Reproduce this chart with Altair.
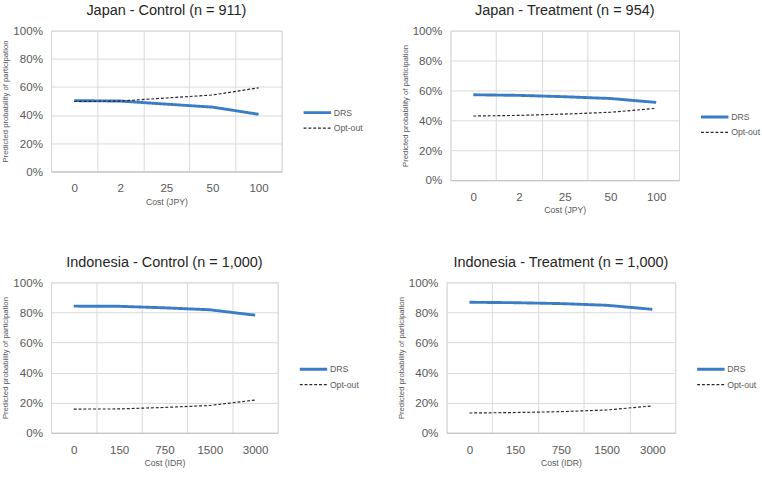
import altair as alt
import pandas as pd

# Cost levels shown on each x axis
jpy_costs = ["0", "2", "25", "50", "100"]
idr_costs = ["0", "150", "750", "1500", "3000"]

series_names = ["DRS", "Opt-out"]

# Predicted probability of participation (share of respondents)
jp_control_drs = [0.503, 0.500, 0.478, 0.457, 0.406]
jp_control_opt = [0.497, 0.500, 0.522, 0.543, 0.594]

jp_treat_drs = [0.571, 0.567, 0.558, 0.546, 0.520]
jp_treat_opt = [0.429, 0.433, 0.442, 0.454, 0.480]

id_control_drs = [0.842, 0.841, 0.831, 0.818, 0.782]
id_control_opt = [0.158, 0.159, 0.169, 0.182, 0.218]

id_treat_drs = [0.868, 0.865, 0.859, 0.848, 0.821]
id_treat_opt = [0.132, 0.135, 0.141, 0.152, 0.179]

BLUE = "#3a7dc6"
GRID = "#d9d9d9"
TEXT = "#595959"


def frame(costs, drs, opt):
    rows = []
    for c, v in zip(costs, drs):
        rows.append({"cost": c, "series": "DRS", "p": v})
    for c, v in zip(costs, opt):
        rows.append({"cost": c, "series": "Opt-out", "p": v})
    return pd.DataFrame(rows)


def panel(title, costs, drs, opt, currency, width, height):
    df = frame(costs, drs, opt)
    legend = alt.Legend(
        title=None,
        orient="none",
        legendX=width + 21,
        legendY=height / 2 + 4,
        symbolType="stroke",
        symbolSize=810,
        clipHeight=16,
        rowPadding=0,
        padding=0,
        labelFontSize=9,
        labelColor=TEXT,
        labelFont="Liberation Sans",
        labelOffset=1,
    )
    return (
        alt.Chart(df, title=alt.Title(title, fontSize=15, font="Liberation Sans",
                                      fontWeight="normal", color="#262626", offset=7))
        .mark_line()
        .encode(
            x=alt.X(
                "cost:N",
                sort=costs,
                scale=alt.Scale(paddingInner=0, paddingOuter=0),
                axis=alt.Axis(
                    title=f"Cost ({currency})",
                    titleFontSize=9,
                    titleFontWeight="normal",
                    titleColor=TEXT,
                    titlePadding=4,
                    labelAngle=0,
                    labelFontSize=12,
                    labelColor=TEXT,
                    labelPadding=12,
                    tickBand="extent",
                    ticks=False,
                    grid=True,
                    gridColor=GRID,
                    domainColor="#bfbfbf",
                ),
            ),
            y=alt.Y(
                "p:Q",
                scale=alt.Scale(domain=[0, 1]),
                axis=alt.Axis(
                    title="Predicted probability of participation",
                    titleFontSize=8,
                    titleFontWeight="normal",
                    titleColor=TEXT,
                    titlePadding=3,
                    format=".0%",
                    values=[0, 0.2, 0.4, 0.6, 0.8, 1.0],
                    labelFontSize=12,
                    labelColor=TEXT,
                    labelPadding=9,
                    ticks=False,
                    domain=False,
                    grid=True,
                    gridColor=GRID,
                ),
            ),
            color=alt.Color("series:N", scale=alt.Scale(domain=series_names, range=[BLUE, "#262626"]),
                            legend=legend),
            strokeDash=alt.StrokeDash("series:N", scale=alt.Scale(domain=series_names, range=[[1, 0], [3, 2]]),
                                      legend=legend),
            strokeWidth=alt.StrokeWidth("series:N", scale=alt.Scale(domain=series_names, range=[3, 1.2]),
                                        legend=legend),
        )
        .properties(width=width, height=height)
    )


tl = panel("Japan - Control (n = 911)", jpy_costs, jp_control_drs, jp_control_opt, "JPY", 239, 146)
tr = panel("Japan - Treatment (n = 954)", jpy_costs, jp_treat_drs, jp_treat_opt, "JPY", 237, 155)
bl = panel("Indonesia - Control (n = 1,000)", idr_costs, id_control_drs, id_control_opt, "IDR", 235, 156)
br = panel("Indonesia - Treatment (n = 1,000)", idr_costs, id_treat_drs, id_treat_opt, "IDR", 237, 156)

independent = dict(color="independent", strokeDash="independent", strokeWidth="independent")

chart = (
    alt.vconcat(
        alt.hconcat(tl, tr, spacing=37).resolve_scale(**independent),
        alt.hconcat(bl, br, spacing=37).resolve_scale(**independent),
        spacing=40,
    )
    .resolve_scale(**independent)
    .configure(font="Liberation Sans")
    .configure_view(stroke=GRID)
    .properties(padding={"left": 1, "top": -6, "right": 0, "bottom": 0})
)

chart.save("out.html", embed_options={"renderer": "svg", "actions": False})
